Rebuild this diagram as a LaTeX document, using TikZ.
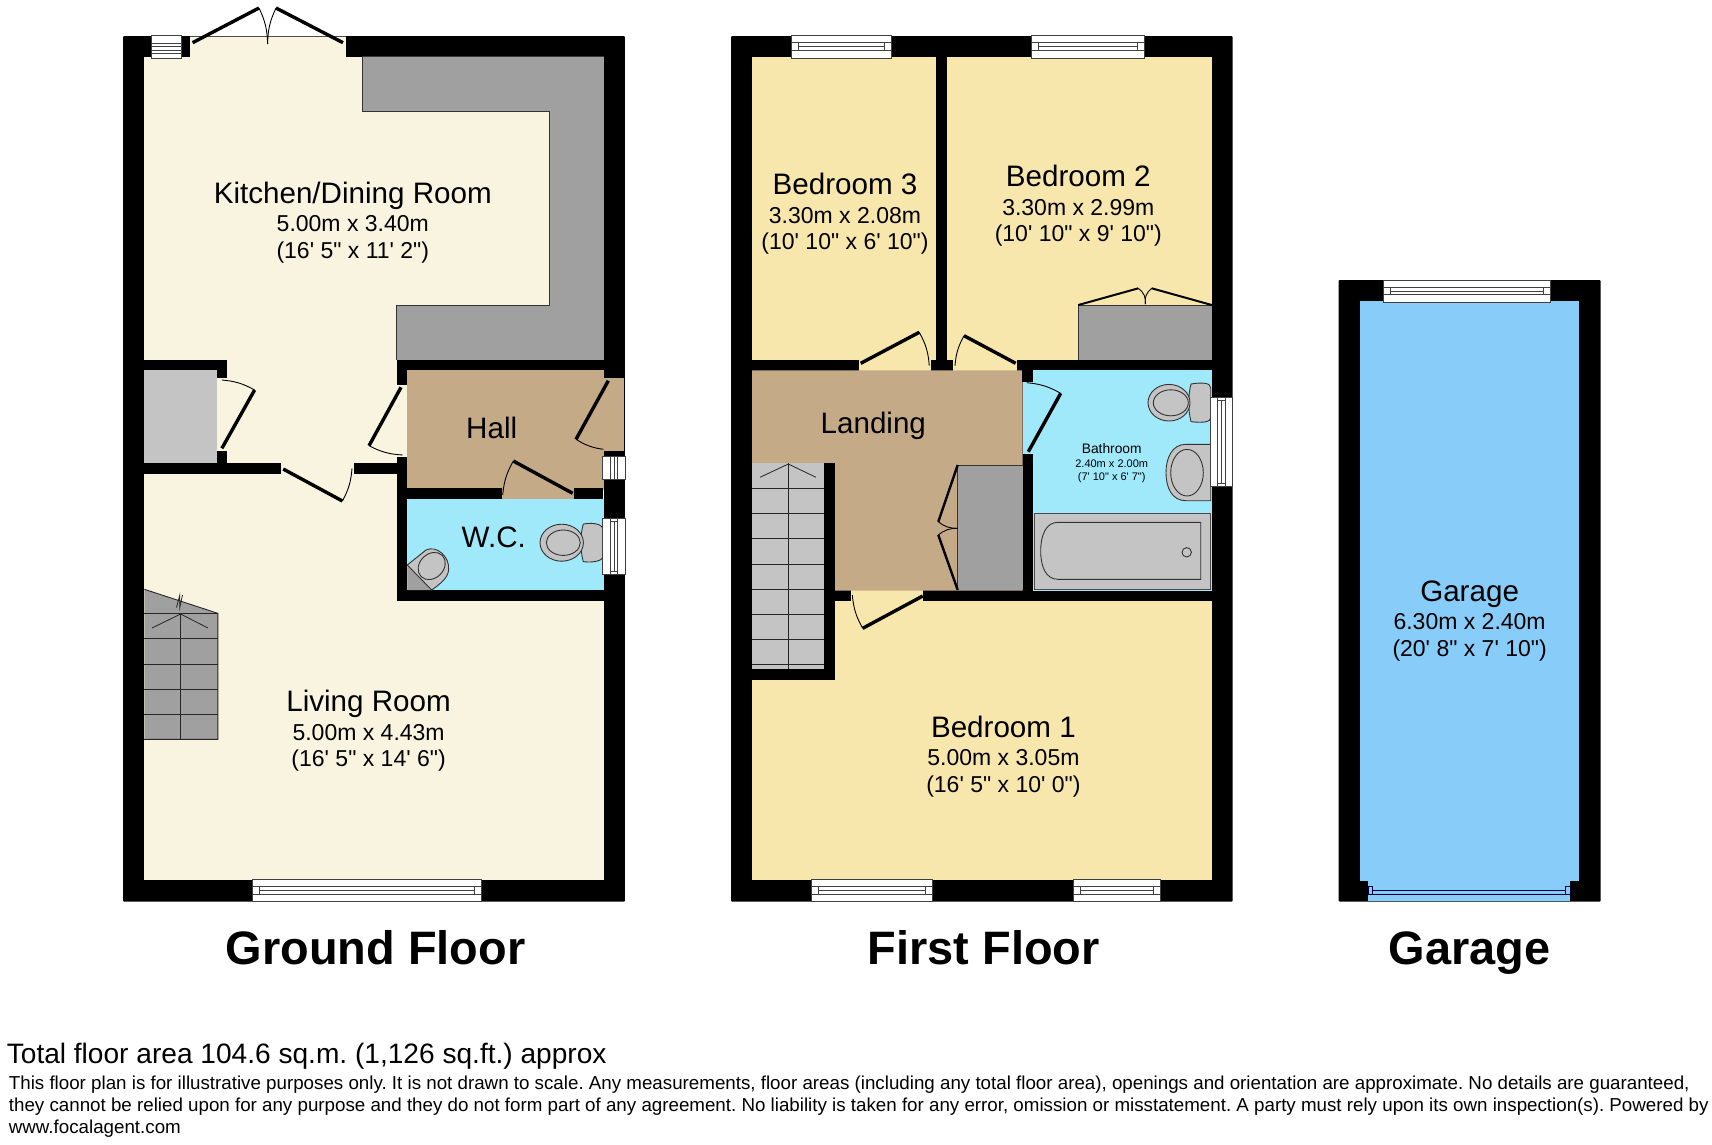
\documentclass[tikz,border=0pt]{standalone}
\usepackage{fontspec}
\usepackage{tikz}
\newfontfamily\planfont{Liberation Sans}
\frenchspacing
\definecolor{groundcream}{HTML}{F9F4DF}
\definecolor{bedsand}{HTML}{F8E7AD}
\definecolor{hallbrown}{HTML}{C5AA88}
\definecolor{wetblue}{HTML}{9FE9FA}
\definecolor{garageblue}{HTML}{88CCFA}
\definecolor{unitgrey}{HTML}{A0A0A0}
\definecolor{wareGrey}{HTML}{C4C4C4}
\tikzset{
  lbl/.style={font=\planfont\fontsize{#1}{#1}\selectfont, anchor=base, inner sep=0pt, text=black},
  doorleaf/.style={line width=3.4pt},
  doorarc/.style={line width=0.9pt},
  winbox/.style={fill=white, draw=black!75, line width=0.8pt},
  winline/.style={draw=black!75, line width=0.8pt},
  ware/.style={fill=wareGrey, draw=black!80, line width=0.9pt}
}
\newcommand{\hwin}[4]{%
  \draw[winbox] (#1,#2) rectangle (#3,#4);
  \draw[winline] (#1,{(#2+#4)/2-4}) -- (#3,{(#2+#4)/2-4}) (#1,{(#2+#4)/2+3.5}) -- (#3,{(#2+#4)/2+3.5});
  \draw[winline] (#1+7,{(#2+#4)/2-4}) -- (#1+7,{(#2+#4)/2+3.5}) (#3-7,{(#2+#4)/2-4}) -- (#3-7,{(#2+#4)/2+3.5}) (#1+7,{(#2+#4)/2}) -- (#3-7,{(#2+#4)/2});
}
\newcommand{\vwin}[4]{%
  \draw[winbox] (#1,#2) rectangle (#3,#4);
  \draw[winline] ({(#1+#3)/2-4},#2) -- ({(#1+#3)/2-4},#4) ({(#1+#3)/2+3.5},#2) -- ({(#1+#3)/2+3.5},#4);
  \draw[winline] ({(#1+#3)/2-4},#2+3) -- ({(#1+#3)/2+3.5},#2+3) ({(#1+#3)/2-4},#4-3) -- ({(#1+#3)/2+3.5},#4-3) ({(#1+#3)/2},#2+3) -- ({(#1+#3)/2},#4-3);
}
\begin{document}
\begin{tikzpicture}[x=1pt, y=-1pt]
  \useasboundingbox (0,0) rectangle (1712,1144);
  \fill[white] (0,0) rectangle (1712,1144);

  % Ground floor shell and rooms
  \fill[black, rounded corners=1pt] (123,36) rectangle (624.8,901.7);
  \fill[groundcream] (144.4,56.7) rectangle (603.8,880);
  \fill[groundcream] (190,36) rectangle (346,57);
  \draw[black!70, line width=0.6pt] (190,36.5) -- (346,36.5);
  \fill[unitgrey] (362.4,56.7) -- (603.8,56.7) -- (603.8,360) -- (396.8,360) -- (396.8,305) -- (549.4,305) -- (549.4,111.3) -- (362.4,111.3) -- cycle;
  \draw[black!80, line width=0.8pt] (396.8,360) -- (396.8,305) -- (549.4,305) -- (549.4,111.3) -- (362.4,111.3) -- (362.4,56.7);
  \fill[hallbrown] (406.8,370.3) rectangle (603.8,490);
  \fill[hallbrown] (603,378.3) rectangle (623.5,450.7);
  \fill[hallbrown] (501.7,488) rectangle (574,499.5);
  \fill[wetblue] (406.8,499.3) rectangle (603.8,590);
  \fill[wareGrey] (144.4,370.3) rectangle (216.7,463);

  % Ground floor inner walls
  \foreach \xa/\ya/\xb/\yb in {
    396.8/360/624/370.3, 396.8/360/406.8/385, 396.8/456.7/406.8/600.7, 396.8/590/624/600.7,
    144.4/360/227/370.3, 216.7/360/227/378.3, 216.7/450.7/227/463,
    144.4/463/281.1/473.7, 353.8/463/396.8/473.7,
    407/488.3/501.7/499.3, 574/488.3/603.3/499.3
  } {
    \fill[black] (\xa,\ya) rectangle (\xb,\yb);
  }

  % Ground floor doors
  \foreach \xa/\ya/\xb/\yb/\xc/\yc/\bend in {
    192.6/42.7/259/8/267.6/44/-12,
    343/42.7/276/8/267.6/44/12,
    221.9/448.3/254.6/390/221.9/380/12,
    401/387.3/369/445.7/402.7/455/12,
    283.2/469/342.4/501/352/468.3/12,
    608.3/380.7/576/439.3/603.3/449.3/12,
    572.7/493.3/513.3/461/502.7/495/12
  } {
    \draw[doorleaf] (\xa,\ya) -- (\xb,\yb);
    \draw[doorarc] (\xb,\yb) to[bend right=\bend] (\xc,\yc);
  }

  % Ground floor stairs
  \fill[unitgrey] (144.4,589.3) -- (217.8,613.3) -- (217.8,739.3) -- (144.4,739.3) -- cycle;
  \draw[black!85, line width=0.9pt] (144.4,589.3) -- (217.8,613.3) -- (217.8,739.3) -- (144.4,739.3);
  \foreach \y in {613.3, 638.7, 664, 689.3, 714, 739.3} {
    \draw[black!85, line width=0.9pt] (144.4,\y) -- (217.8,\y);
  }
  \draw[black!85, line width=0.9pt] (180.6,613.3) -- (180.6,739.3);
  \draw[black!85, line width=0.8pt] (152,628) -- (180.6,614) -- (208,628);
  \draw[black!85, line width=0.8pt] (176.5,607.5) -- (179.8,595) -- (179.8,607.5) -- (182.5,595);

  % WC fittings
  \draw[ware] (583.3,524) .. controls (596,522) and (603,525) .. (603.3,530) -- (603.3,556) .. controls (603,560) and (596,563) .. (583.3,561.7) .. controls (580,550) and (580,535) .. (583.3,524);
  \draw[ware] (561.7,542.7) ellipse (21.7 and 18.5);
  \draw[ware, fill=none] (563.3,542.7) ellipse (17 and 12.7);
  \fill[unitgrey] (407.3,565) -- (431.7,590) -- (407.3,590) -- cycle;
  \draw[ware] (407.3,565) -- (426,550) .. controls (436,545) and (450,556) .. (448.6,570) .. controls (448,578) and (440,584) .. (431.7,590) -- cycle;
  \draw[ware, fill=none, rotate around={45:(431.7,566)}] (431.7,566) ellipse (15 and 12);

  % Ground floor windows
  \draw[winbox] (151.3,35.3) rectangle (181.6,58);
  \foreach \y in {43.3, 46.7, 50, 53.3} {
    \draw[winline] (151.3,\y) -- (181.6,\y);
  }
  \draw[winbox] (602.7,456) rectangle (625.3,479.3);
  \foreach \x in {610, 614, 617.7} {
    \draw[winline] (\x,456) -- (\x,479.3);
  }
  \vwin{602.7}{518.3}{625.3}{574.3}
  \hwin{252.6}{879.3}{481.2}{901.7}

  % First floor shell and rooms
  \fill[black, rounded corners=1pt] (731,36) rectangle (1232.7,901.7);
  \fill[bedsand] (752,56.7) rectangle (935.7,360);
  \fill[bedsand] (946.7,56.7) rectangle (1211.7,360);
  \fill[bedsand] (859,360) rectangle (931,370.5);
  \fill[bedsand] (953.3,360) rectangle (1016.7,370.5);
  \fill[bedsand] (752,680) rectangle (835,880);
  \fill[bedsand] (835,601.3) rectangle (1211.7,880);
  \fill[bedsand] (851,590) rectangle (922.7,602);
  \fill[hallbrown] (752,370.3) -- (1022.7,370.3) -- (1022.7,590.7) -- (835,590.7) -- (835,463.3) -- (752,463.3) -- cycle;
  \fill[wetblue] (1022.7,381.7) rectangle (1033.5,454);
  \fill[wetblue] (1033.3,370.3) rectangle (1211.7,590.7);
  \fill[wareGrey] (752,463.3) rectangle (824,669);

  % First floor inner walls
  \foreach \xa/\ya/\xb/\yb in {
    752/360/859/370.3, 931/360/953.3/370.3, 1016.7/360/1211.7/370.3,
    1022.3/370/1033.3/381.7, 1022.7/454/1033.3/601.3,
    824/463.3/835/680, 752/669/835/680,
    835/590.7/851/601.3, 922.7/590.7/1211.7/601.3
  } {
    \fill[black] (\xa,\ya) rectangle (\xb,\yb);
  }
  \fill[black] (935.7,56.7) rectangle (946.7,360);

  % First floor fitted cupboards
  \fill[unitgrey] (1078.3,305) rectangle (1211.7,360);
  \draw[black!80, line width=0.8pt] (1078.3,360) -- (1078.3,305) -- (1211.7,305);
  \fill[unitgrey] (957.7,465) rectangle (1022.7,590);
  \draw[black!80, line width=0.8pt] (1022.7,465) -- (957.7,465) -- (957.7,590);

  % First floor doors
  \foreach \xa/\ya/\xb/\yb/\xc/\yc/\bend in {
    860.7/363.3/919.3/332.3/929.3/365.7/-12,
    1015.7/363.3/964/335.7/955/365.7/12,
    922.7/596/862.7/628.3/852.3/595/-12
  } {
    \draw[doorleaf] (\xa,\ya) -- (\xb,\yb);
    \draw[doorarc] (\xb,\yb) to[bend right=\bend] (\xc,\yc);
  }
  \draw[doorleaf] (1060.7,393.3) -- (1028.3,451.7);
  \draw[doorarc] (1060.7,393.3) to[bend right=12] (1026.7,382.7);
  \draw[line width=2pt] (1078.3,305) -- (1138.3,288.3);
  \draw[line width=2pt] (1211.7,305) -- (1151.7,288.3);
  \draw[doorarc] (1138.3,288.3) to[bend left=30] (1145.3,304);
  \draw[doorarc] (1151.7,288.3) to[bend right=30] (1145.3,304);
  \draw[line width=2.4pt] (957.7,465) -- (938.3,521.7);
  \draw[line width=2.4pt] (957.7,590) -- (938.3,535);
  \draw[doorarc] (938.3,521.7) to[bend right=20] (957.7,528.3);
  \draw[doorarc] (938.3,535) to[bend left=20] (957.7,528.3);

  % First floor stairs
  \foreach \y in {488.3, 513.3, 538.7, 564, 589, 614, 639, 664} {
    \draw[black!85, line width=0.9pt] (752,\y) -- (824,\y);
  }
  \draw[black!85, line width=0.9pt] (788.3,463.3) -- (788.3,669);
  \draw[black!85, line width=0.8pt] (760,477.3) -- (788.3,464) -- (816,477.3);

  % Bathroom fittings
  \draw[ware] (1191,384) .. controls (1203,382) and (1210.7,383) .. (1210.7,388) -- (1210.7,418) .. controls (1210.7,422) and (1203,423) .. (1191,421.7) .. controls (1188,410) and (1188,395) .. (1191,384);
  \draw[ware] (1169,402.7) ellipse (21 and 18.3);
  \draw[ware, fill=none] (1170.8,402.8) ellipse (17.5 and 13);
  \draw[ware] (1210.7,444.3) -- (1186,444.3) .. controls (1172,444.3) and (1166,458) .. (1166,472.5) .. controls (1166,488) and (1172,500.7) .. (1186,500.7) -- (1210.7,500.7) -- cycle;
  \draw[ware, fill=none] (1187,472.7) ellipse (16.3 and 23.3);
  \draw[ware, draw=black!70] (1034.3,513.7) rectangle (1210,589.3);
  \draw[ware] (1200.7,522.3) -- (1058,522.3) .. controls (1046,522.3) and (1040.7,535) .. (1040.7,551) .. controls (1040.7,567) and (1046,579.3) .. (1058,579.3) -- (1200.7,579.3) -- cycle;
  \draw[ware, fill=none] (1186.7,552.3) circle (4.7);

  % First floor windows
  \hwin{791.7}{35.3}{891.7}{58.3}
  \hwin{1031}{35.3}{1144}{58.3}
  \hwin{811.5}{879.3}{932.5}{901.7}
  \hwin{1073}{879.3}{1160.5}{901.7}
  \vwin{1210.7}{397.3}{1232.3}{486.7}

  % Garage
  \fill[black, rounded corners=1pt] (1338.7,280) rectangle (1600.7,901.7);
  \fill[garageblue] (1360,301.3) rectangle (1579.3,880.7);
  \fill[garageblue] (1368,880) rectangle (1570,901);
  \hwin{1383.3}{280}{1550}{302.3}
  \draw[black!80!blue, line width=0.8pt] (1368,886.7) rectangle (1372.7,894.7);
  \draw[black!80!blue, line width=0.8pt] (1565.7,886.7) rectangle (1570,894.7);
  \draw[black!80!blue, line width=0.8pt] (1372.7,890.7) rectangle (1565.7,894.5);

  % Room labels
  \foreach \x/\y/\room/\metric/\imperial [count=\i] in {
    352.8/203/{Kitchen/Dining Room}/5.00m x 3.40m/(16' 5" x 11' 2"),
    368.6/711.7/Living Room/5.00m x 4.43m/(16' 5" x 14' 6"),
    845/194.7/Bedroom 3/3.30m x 2.08m/(10' 10" x 6' 10"),
    1078.3/186.4/Bedroom 2/3.30m x 2.99m/(10' 10" x 9' 10"),
    1003.4/737/Bedroom 1/5.00m x 3.05m/(16' 5" x 10' 0"),
    1469.6/601/Garage/6.30m x 2.40m/(20' 8" x 7' 10")
  } {
    \node[lbl=29.6] (room\i) at (\x,\y) {\room};
    \node[lbl=23] (metric\i) at (\x,\y+28.6) {\metric};
    \node[lbl=23] (imperial\i) at (\x,\y+55.2) {\imperial};
  }
  \node[lbl=29.6] (hall) at (491.7,438.3) {Hall};
  \node[lbl=29.6] (wc) at (493.8,547.7) {W.C.};
  \node[lbl=29.6] (landing) at (873.3,433.6) {Landing};
  \node[lbl=13.8] (bathroom) at (1111.7,453.8) {Bathroom};
  \node[lbl=11] (bathmetric) at (1111.7,467) {2.40m x 2.00m};
  \node[lbl=11] (bathimperial) at (1111.7,480) {(7' 10" x 6' 7")};

  % Floor titles
  \foreach \x/\floor/\id in {375.6/Ground Floor/ground, 983.8/First Floor/first, 1469.6/Garage/garage} {
    \node[lbl=46.9, font=\planfont\fontsize{46.9}{46.9}\selectfont\bfseries] (title\id) at (\x,964) {\floor};
  }

  % Footer
  \node[lbl=28.1, anchor=base west] (total) at (6.6,1063.3) {Total floor area 104.6 sq.m. (1,126 sq.ft.) approx};
  \node[lbl=18.75, anchor=base west] (note1) at (8.7,1089.7) {This floor plan is for illustrative purposes only. It is not drawn to scale. Any measurements, floor areas (including any total floor area), openings and orientation are approximate. No details are guaranteed,};
  \node[lbl=18.75, anchor=base west] (note2) at (8.7,1111.6) {they cannot be relied upon for any purpose and they do not form part of any agreement. No liability is taken for any error, omission or misstatement. A party must rely upon its own inspection(s). Powered by};
  \node[lbl=18.75, anchor=base west] (note3) at (8.7,1133.4) {www.focalagent.com};
\end{tikzpicture}
\end{document}
